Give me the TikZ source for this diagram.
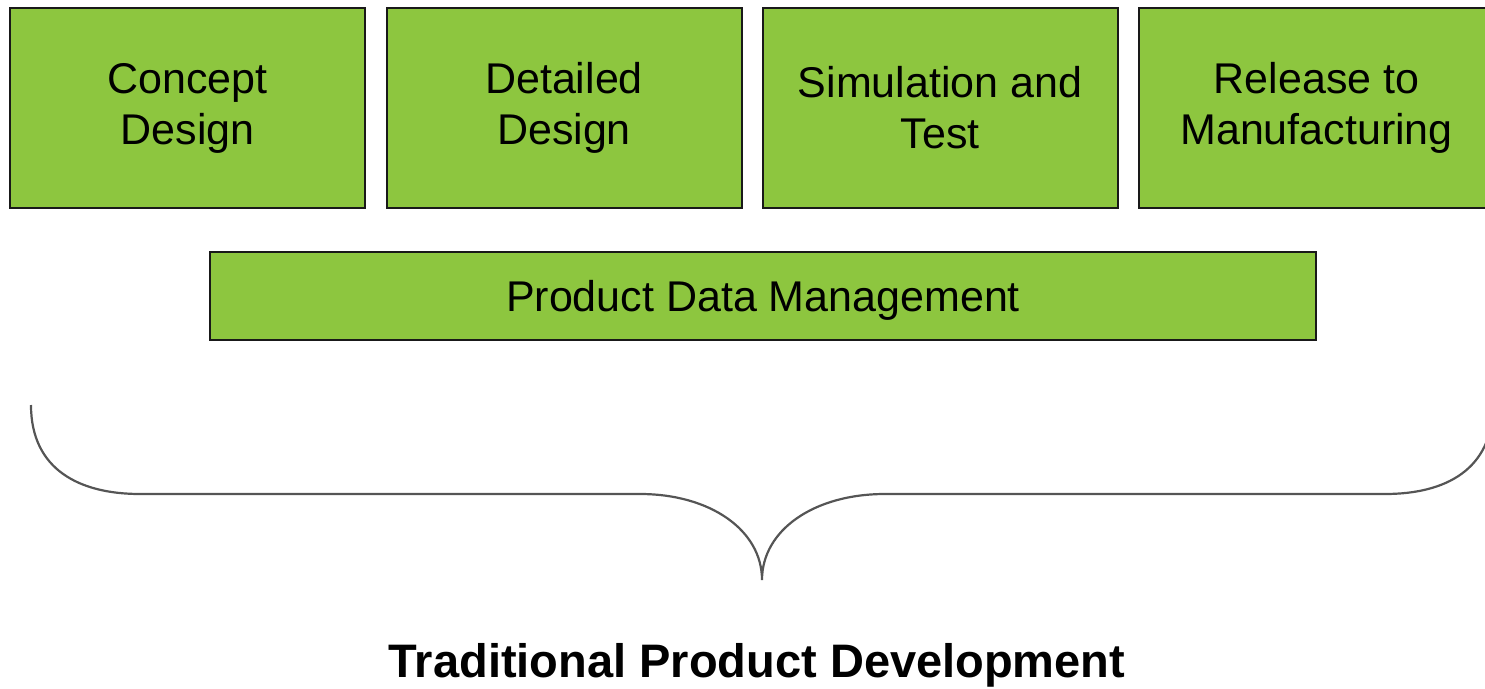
\documentclass[tikz,border=0pt]{standalone}
\usepackage{fontspec}
\setmainfont{Liberation Sans}
\definecolor{boxgreen}{RGB}{141,198,63}
\definecolor{boxedge}{RGB}{25,25,25}
\definecolor{bracegray}{RGB}{85,85,85}
\begin{document}
\begin{tikzpicture}[x=1pt,y=-1pt,
  stage/.style={draw=boxedge, line width=2pt, fill=boxgreen, minimum width=355pt, minimum height=200pt, align=center, inner sep=0pt, font=\fontsize{43}{51}\selectfont},
  pdm/.style={draw=boxedge, line width=2pt, fill=boxgreen, minimum width=1106pt, minimum height=88pt, inner sep=0pt, font=\fontsize{43}{51}\selectfont},
  bracestyle/.style={draw=bracegray, line width=2.2pt},
  title/.style={font=\bfseries\fontsize{47}{56}\selectfont, inner sep=0pt, anchor=base}]
\useasboundingbox (0,0) rectangle (1485,688);
\clip (0,0) rectangle (1485,688);
\node[stage] (s1) at (187.5,108) {Concept\\Design};
\node[stage] (s2) at (564,108) {Detailed\\Design};
\node[stage] (s3) at (940,108) {Simulation and\\Test};
\node[stage] (s4) at (1316.5,108) {Release to\\Manufacturing};
\node[pdm] (pdm) at (763,296) {\raisebox{-4pt}[\height][\depth]{Product Data Management}};
\draw[bracestyle] (31,405) .. controls (31,470) and (80,494) .. (140,494)
  -- (640,494) .. controls (710,494) and (762,530) .. (762,580)
  .. controls (762,530) and (814,494) .. (885,494)
  -- (1385,494) .. controls (1445,494) and (1493,470) .. (1493,405);
\node[title] (t) at (757,677) {Traditional Product Development};
\end{tikzpicture}
\end{document}
